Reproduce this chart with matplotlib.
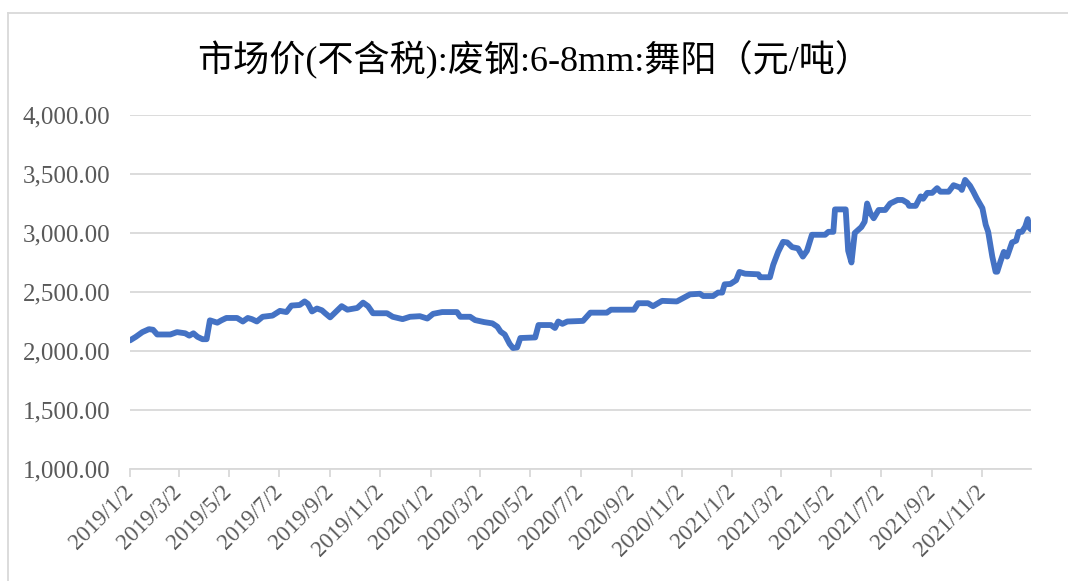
import matplotlib
matplotlib.use("Agg")
import matplotlib.pyplot as plt
from matplotlib.lines import Line2D
import pandas as pd

# price readings (date, yuan/ton)
dates = [
    "2019-01-02", "2019-01-09", "2019-01-17", "2019-01-25", "2019-01-30", "2019-02-04",
    "2019-02-20", "2019-02-28", "2019-03-10", "2019-03-15", "2019-03-20", "2019-03-25",
    "2019-03-31", "2019-04-05", "2019-04-09", "2019-04-18", "2019-04-23", "2019-04-29",
    "2019-05-12", "2019-05-19", "2019-05-25", "2019-05-30", "2019-06-05", "2019-06-12",
    "2019-06-24", "2019-07-03", "2019-07-11", "2019-07-17", "2019-07-27", "2019-08-02",
    "2019-08-06", "2019-08-11", "2019-08-17", "2019-08-23", "2019-08-27", "2019-09-02",
    "2019-09-10", "2019-09-16", "2019-09-23", "2019-10-05", "2019-10-12", "2019-10-18",
    "2019-10-24", "2019-11-10", "2019-11-17", "2019-11-29", "2019-12-08", "2019-12-20",
    "2019-12-29", "2020-01-05", "2020-01-16", "2020-02-03", "2020-02-07", "2020-02-19",
    "2020-02-25", "2020-03-07", "2020-03-17", "2020-03-23", "2020-03-27", "2020-04-01",
    "2020-04-07", "2020-04-11", "2020-04-16", "2020-04-20", "2020-05-08", "2020-05-12",
    "2020-05-27", "2020-06-01", "2020-06-05", "2020-06-10", "2020-06-16", "2020-07-05",
    "2020-07-14", "2020-08-03", "2020-08-08", "2020-09-05", "2020-09-10", "2020-09-22",
    "2020-09-28", "2020-10-09", "2020-10-27", "2020-11-04", "2020-11-12", "2020-11-24",
    "2020-11-28", "2020-12-10", "2020-12-16", "2020-12-21", "2020-12-24", "2020-12-31",
    "2021-01-07", "2021-01-11", "2021-01-18", "2021-02-03", "2021-02-05", "2021-02-17",
    "2021-02-21", "2021-02-27", "2021-03-05", "2021-03-10", "2021-03-16", "2021-03-23",
    "2021-03-29", "2021-04-03", "2021-04-09", "2021-04-25", "2021-04-29", "2021-05-05",
    "2021-05-07", "2021-05-20", "2021-05-23", "2021-05-27", "2021-05-31", "2021-06-04",
    "2021-06-08", "2021-06-12", "2021-06-15", "2021-06-19", "2021-06-23", "2021-06-29",
    "2021-07-07", "2021-07-13", "2021-07-22", "2021-07-28", "2021-08-03", "2021-08-05",
    "2021-08-13", "2021-08-19", "2021-08-22", "2021-08-27", "2021-09-02", "2021-09-08",
    "2021-09-12", "2021-09-22", "2021-09-28", "2021-10-06", "2021-10-08", "2021-10-12",
    "2021-10-18", "2021-10-22", "2021-10-26", "2021-11-02", "2021-11-06", "2021-11-09",
    "2021-11-14", "2021-11-18", "2021-11-20", "2021-11-24", "2021-11-28", "2021-12-02",
    "2021-12-08", "2021-12-13", "2021-12-16", "2021-12-20", "2021-12-24", "2021-12-27",
    "2021-12-29", "2021-12-31",
]
prices = [
    2090, 2120, 2160, 2185, 2180, 2140,
    2140, 2160, 2150, 2130, 2150, 2120,
    2100, 2100, 2260, 2240, 2260, 2280,
    2280, 2250, 2280, 2270, 2250, 2290,
    2300, 2340, 2330, 2385, 2390, 2420,
    2400, 2335, 2360, 2345, 2320, 2285,
    2340, 2380, 2350, 2365, 2410, 2380,
    2320, 2320, 2290, 2270, 2290, 2295,
    2275, 2315, 2330, 2330, 2290, 2290,
    2262, 2245, 2234, 2206, 2164, 2140,
    2060, 2025, 2030, 2110, 2115, 2220,
    2220, 2195, 2250, 2230, 2250, 2255,
    2325, 2325, 2350, 2350, 2405, 2405,
    2380, 2425, 2420, 2450, 2480, 2485,
    2466, 2466, 2495, 2495, 2565, 2568,
    2600, 2670, 2655, 2650, 2625, 2625,
    2730, 2840, 2925, 2920, 2880, 2870,
    2800, 2850, 2985, 2985, 3010, 3010,
    3200, 3200, 2850, 2750, 3000, 3025,
    3050, 3096, 3250, 3167, 3125, 3195,
    3195, 3250, 3280, 3280, 3255, 3230,
    3230, 3310, 3290, 3340, 3340, 3380,
    3350, 3350, 3405, 3385, 3365, 3450,
    3400, 3350, 3295, 3210, 3070, 3010,
    2800, 2672, 2672, 2760, 2840, 2800,
    2920, 2935, 3010, 3010, 3054, 3118,
    3045, 3030,
]

tick_labels = ["2019/1/2", "2019/3/2", "2019/5/2", "2019/7/2", "2019/9/2", "2019/11/2",
               "2020/1/2", "2020/3/2", "2020/5/2", "2020/7/2", "2020/9/2", "2020/11/2",
               "2021/1/2", "2021/3/2", "2021/5/2", "2021/7/2", "2021/9/2", "2021/11/2"]
y_ticks = [1000, 1500, 2000, 2500, 3000, 3500, 4000]

title = "市场价(不含税):废钢:6-8mm:舞阳（元/吨）"

x = pd.to_datetime(dates)
tick_dates = pd.to_datetime(tick_labels, format="%Y/%m/%d")

fig = plt.figure(figsize=(10.68, 5.81), dpi=100)
ax = fig.add_axes([130 / 1068, 1 - 469 / 581, 901 / 1068, 354 / 581])

grid_color = "#D9D9D9"
text_color = "#595959"

ax.plot(x, prices, color="#4472C4", linewidth=4.2,
        solid_joinstyle="round", solid_capstyle="round", zorder=3)

ax.set_xlim(pd.Timestamp("2019-01-02"), pd.Timestamp("2021-12-31"))
ax.set_ylim(1000, 4000)
ax.set_yticks(y_ticks)
ax.set_yticklabels([f"{v:,.2f}" for v in y_ticks])
ax.yaxis.grid(True, color=grid_color, linewidth=1.3)
ax.set_axisbelow(True)

ax.set_xticks(tick_dates)
ax.set_xticklabels(tick_labels, rotation=45, ha="right", va="center",
                   rotation_mode="anchor")

for side in ["top", "right", "left"]:
    ax.spines[side].set_visible(False)
ax.spines["bottom"].set_color(grid_color)
ax.spines["bottom"].set_linewidth(1.3)

ax.tick_params(axis="y", length=0, pad=14, labelsize=18, labelcolor=text_color)
ax.tick_params(axis="x", length=6, width=1.3, color=grid_color, direction="out",
               pad=8, labelsize=16.5, labelcolor=text_color)
for lab in ax.get_xticklabels() + ax.get_yticklabels():
    lab.set_family("Liberation Serif")

fig.text(0.5, 1 - 60 / 581, title, ha="center", va="center", fontsize=26,
         family=["Liberation Serif", "Noto Sans CJK SC"], color="#000000")

# light chart-area border
fig.add_artist(Line2D([8 / 1068, 8 / 1068], [0, 1 - 13 / 581],
                      transform=fig.transFigure, color=grid_color, linewidth=1.3))
fig.add_artist(Line2D([8 / 1068, 1], [1 - 13 / 581, 1 - 13 / 581],
                      transform=fig.transFigure, color=grid_color, linewidth=1.3))

fig.savefig("out.png", dpi=100)
